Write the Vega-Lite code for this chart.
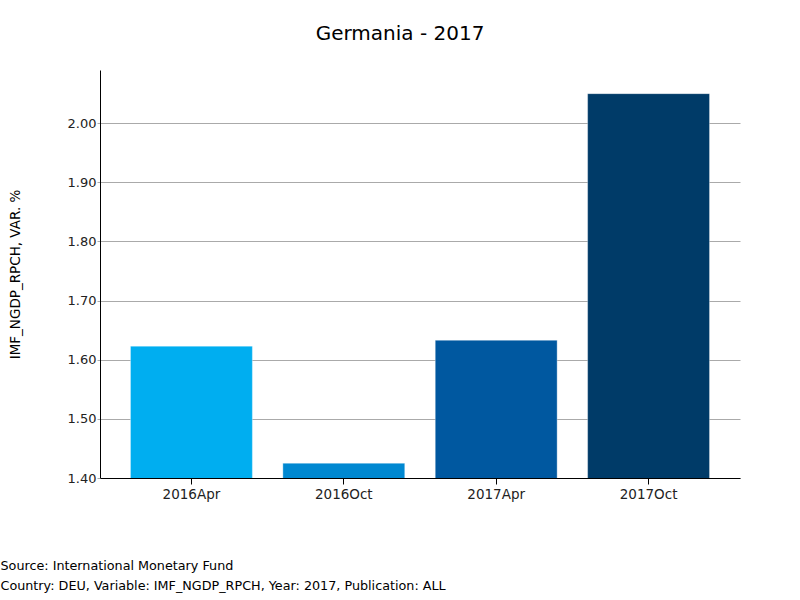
{
  "$schema": "https://vega.github.io/schema/vega-lite/v6.json",
  "autosize": "none",
  "width": 640,
  "height": 408,
  "padding": {"left": 100, "top": 70, "right": 60, "bottom": 122},
  "background": "white",
  "title": {"text": "Germania - 2017", "font": "DejaVu Sans", "fontSize": 20, "fontWeight": "normal", "color": "#000000", "anchor": "middle", "dx": -20, "offset": 10, "baseline": "alphabetic"},
  "config": {"view": {"stroke": null}, "font": "DejaVu Sans"},
  "data": {"values": [
    {"publication": "2016Apr", "value": 1.623},
    {"publication": "2016Oct", "value": 1.425},
    {"publication": "2017Apr", "value": 1.633},
    {"publication": "2017Oct", "value": 2.05}
  ]},
  "mark": {"type": "bar", "clip": true, "stroke": "#ffffff", "strokeOpacity": 0.35, "strokeWidth": 1},
  "encoding": {
    "x": {"field": "publication", "type": "nominal", "sort": null,
      "scale": {"paddingInner": 0.2, "paddingOuter": 0.2},
      "axis": {"labelAngle": 0, "labelFont": "DejaVu Sans", "labelFontSize": 13.5, "labelColor": "#222222", "labelPadding": 3,
        "domainColor": "#000000", "tickColor": "#000000", "tickSize": 6,
        "title": ["Source: International Monetary Fund", "Country: DEU, Variable: IMF_NGDP_RPCH, Year: 2017, Publication: ALL"],
        "titleFont": "DejaVu Sans", "titleFontSize": 12.75, "titleFontWeight": "normal", "titleColor": "#000000",
        "titleAnchor": "start", "titleAlign": "left", "titleBaseline": "top", "titleX": -100, "titleY": 81, "titleLineHeight": 20}},
    "y": {"field": "value", "type": "quantitative",
      "scale": {"domain": [1.4, 2.09], "zero": false, "nice": false},
      "axis": {"values": [1.4, 1.5, 1.6, 1.7, 1.8, 1.9, 2.0], "format": ".2f",
        "labelFont": "DejaVu Sans", "labelFontSize": 13, "labelColor": "#222222", "labelPadding": 1,
        "domainColor": "#000000", "tickColor": "#aaaaaa", "tickSize": 3,
        "gridColor": "#aaaaaa", "gridOpacity": 1,
        "title": "IMF_NGDP_RPCH, VAR. %", "titleFont": "DejaVu Sans", "titleFontSize": 13.5, "titleFontWeight": "normal", "titleColor": "#000000",
        "titleX": -85, "titleY": 204, "titleAnchor": "middle", "titleBaseline": "middle"}},
    "color": {"field": "publication", "type": "nominal", "sort": null, "legend": null,
      "scale": {"domain": ["2016Apr", "2016Oct", "2017Apr", "2017Oct"], "range": ["#00aef0", "#0088d1", "#0058a0", "#003b68"]}}
  }
}
